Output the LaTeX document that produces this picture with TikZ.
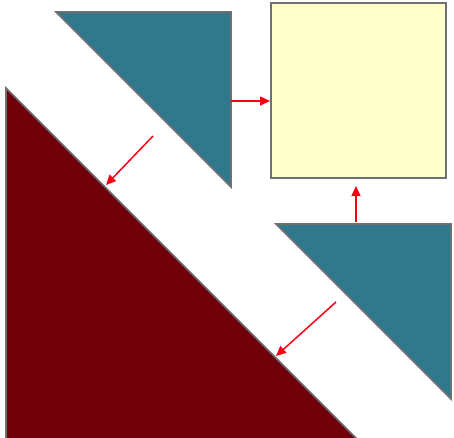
\documentclass[tikz,border=0pt]{standalone}
\usetikzlibrary{arrows.meta,positioning}
\definecolor{tealpiece}{RGB}{49,120,141}
\definecolor{maroonpiece}{RGB}{112,0,10}
\definecolor{paleyellow}{RGB}{255,255,204}
\definecolor{edgegray}{RGB}{112,112,112}
\definecolor{arrowred}{RGB}{250,0,20}

\begin{document}
\begin{tikzpicture}[x=1pt,y=-1pt,
    piece/.style={draw=edgegray, line width=1.6pt},
    move/.style={-{Triangle[length=10pt,width=9pt]}, arrowred, line width=1.5pt}]

    \useasboundingbox (0,0) rectangle (454,437);
    \clip (0,0) rectangle (454,437);

    % pieces
    \draw[piece, fill=maroonpiece] (6,88) -- (6,460) -- (378,460) -- cycle;
    \draw[piece, fill=tealpiece] (56,12) -- (231,12) -- (231,187) -- cycle;
    \draw[piece, fill=tealpiece] (276,224) -- (451,224) -- (451,399) -- cycle;
    \node[piece, fill=paleyellow, minimum size=175pt, inner sep=0pt, anchor=north west] (square) at (270,2) {};

    % arrow ends
    \coordinate (topside) at (231,101);
    \coordinate (topcut) at (153,136);
    \coordinate (bigtop) at (106,185);
    \coordinate (lowtop) at (356,222);
    \coordinate (belowsquare) at (356,186);
    \coordinate (lowcut) at (336,302);
    \coordinate (bigmid) at (276,356);

    \draw[move] (topside) -- (topside -| square.west);
    \draw[move] (lowtop) -- (belowsquare);
    \draw[move] (topcut) -- (bigtop);
    \draw[move] (lowcut) -- (bigmid);
\end{tikzpicture}
\end{document}
